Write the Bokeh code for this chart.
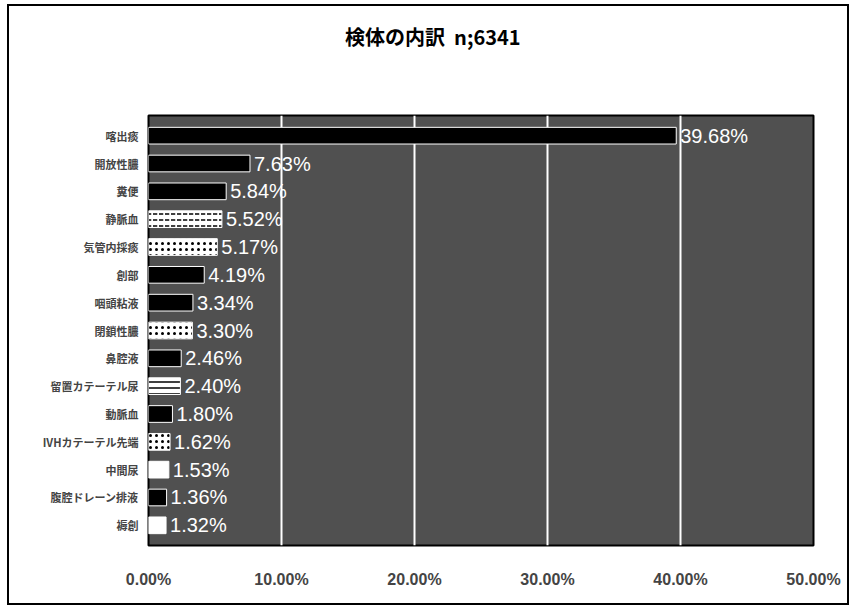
from bokeh.plotting import figure
from bokeh.layouts import column
from bokeh.models import ColumnDataSource, FactorRange, FixedTicker, PrintfTickFormatter, Div
from bokeh.core.properties import value
from bokeh.embed import file_html
from bokeh.resources import INLINE

title_text = "検体の内訳&nbsp;&nbsp;n;6341"
categories = ["喀出痰", "開放性膿", "糞便", "静脈血", "気管内採痰", "創部", "咽頭粘液", "閉鎖性膿",
              "鼻腔液", "留置カテーテル尿", "動脈血", "IVHカテーテル先端", "中間尿", "腹腔ドレーン排液", "褥創"]
percents = [39.68, 7.63, 5.84, 5.52, 5.17, 4.19, 3.34, 3.30, 2.46, 2.40, 1.80, 1.62, 1.53, 1.36, 1.32]
x_ticks = [0, 10, 20, 30, 40, 50]

fills = ["black", "black", "black", "white", "white", "black", "black", "white",
         "black", "white", "black", "white", "white", "black", "white"]
hatches = ["", "", "", "horizontal_dash", "dot", "", "", "dot",
           "", "horizontal_line", "", "dot", "", "", ""]

src = ColumnDataSource(dict(
    cat=categories, pct=percents, fill=fills, hatch=hatches,
    label=[f"{v:.2f}%" for v in percents],
))

title = Div(text=title_text, width=838, height=60, margin=0,
            styles={"font-family": "'Noto Sans CJK JP'", "font-size": "20px", "font-weight": "bold",
                    "color": "black", "padding-left": "336px", "padding-top": "17px",
                    "box-sizing": "border-box", "line-height": "28px", "background": "white"})

p = figure(width=838, height=537, output_backend="svg", toolbar_location=None,
           y_range=FactorRange(factors=list(reversed(categories)), range_padding=0.03),
           x_range=(0, 50), margin=0,
           min_border_left=139, min_border_right=34, min_border_top=49, min_border_bottom=58)
p.title.visible = False

p.background_fill_color = "#505050"
p.border_fill_color = "white"
p.outline_line_color = "black"
p.outline_line_width = 2

p.hbar(y="cat", right="pct", left=0, height=0.6, source=src,
       fill_color="fill", line_color="white", line_width=1,
       hatch_pattern="hatch", hatch_color="black", hatch_scale=6, hatch_weight=1.5)

p.text(x="pct", y="cat", text="label", source=src, x_offset=4,
       text_baseline="middle", text_align="left", text_color="white",
       text_font=value("Liberation Sans"), text_font_size="20px")

p.xgrid.grid_line_color = "white"
p.xgrid.grid_line_width = 2
p.ygrid.grid_line_color = None

p.xaxis.ticker = FixedTicker(ticks=x_ticks)
p.xaxis.formatter = PrintfTickFormatter(format="%.2f%%")
p.xaxis.major_label_text_font = "Liberation Sans"
p.xaxis.major_label_text_font_style = "bold"
p.xaxis.major_label_text_font_size = "16px"
p.xaxis.major_label_standoff = 19
p.xaxis.axis_line_color = None
p.xaxis.major_tick_line_color = None
p.xaxis.minor_tick_line_color = None

p.yaxis.major_label_text_font = "Noto Sans CJK JP"
p.yaxis.major_label_text_font_style = "bold"
p.yaxis.major_label_text_font_size = "11px"
p.yaxis.major_label_standoff = 4
p.yaxis.axis_line_color = None
p.yaxis.major_tick_line_color = None
p.yaxis.minor_tick_line_color = None

layout = column(title, p, spacing=0, margin=0,
                styles={"border": "2px solid black", "margin": "4px 0 0 7px", "background": "white"})

open("out.html", "w").write(file_html(layout, INLINE))
